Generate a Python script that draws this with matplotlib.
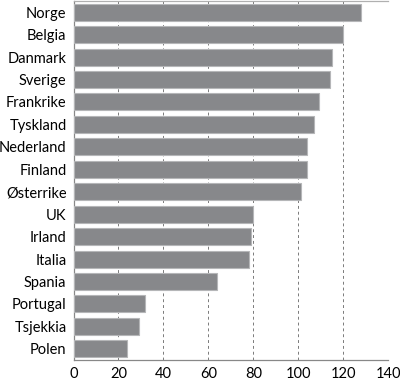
import matplotlib
matplotlib.use("Agg")
import matplotlib.pyplot as plt
import numpy as np

# data
land = ["Norge", "Belgia", "Danmark", "Sverige", "Frankrike", "Tyskland",
        "Nederland", "Finland", "Østerrike", "UK", "Irland", "Italia",
        "Spania", "Portugal", "Tsjekkia", "Polen"]
verdi = [128, 120, 115, 114, 109, 107, 104, 104, 101, 80, 79, 78, 64, 32, 29, 24]
xticks = [0, 20, 40, 60, 80, 100, 120, 140]

plt.rcParams['font.family'] = ['Lato', 'DejaVu Sans']

fig = plt.figure(figsize=(4, 3.84), dpi=100)
ax = fig.add_axes([73.5/400, 24/384, (388.3-73.5)/400, 359/384])

pos = np.arange(len(land))
ax.barh(pos, verdi, height=0.76, color='#87888b', edgecolor='#b5b6b8',
        linewidth=0.8, zorder=3)

ax.set_ylim(len(land) - 0.5, -0.5)
ax.set_xlim(0, 140)
ax.set_yticks(pos)
ax.set_yticklabels(land)
ax.set_xticks(xticks)

ax.grid(axis='x', linestyle=(0, (3, 3)), color='#7a7a7a', linewidth=0.7, zorder=0)
ax.tick_params(length=0, labelsize=10.5, pad=5)
ax.tick_params(axis='x', pad=5)

for s in ['right']:
    ax.spines[s].set_visible(False)
ax.spines['top'].set_color('#b0b0b0')
ax.spines['bottom'].set_color('#888888')
ax.spines['left'].set_color('#888888')
for s in ax.spines.values():
    s.set_linewidth(0.9)

fig.savefig("out.png", dpi=100)
